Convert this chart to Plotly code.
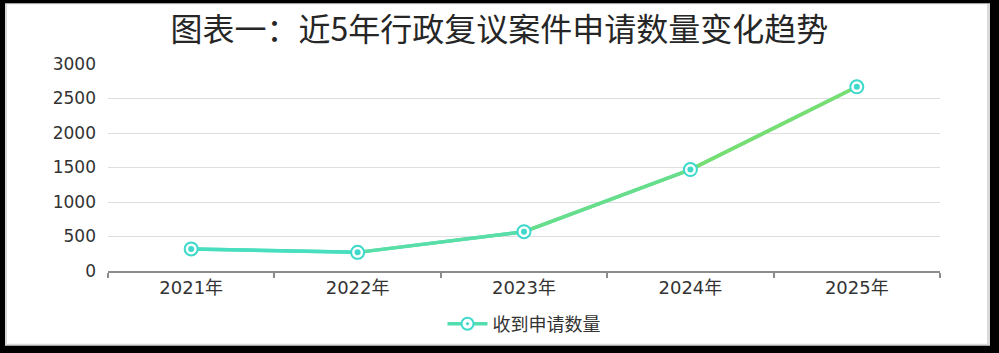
import plotly.graph_objects as go

# ---- data ----
years = ["2021年", "2022年", "2023年", "2024年", "2025年"]
applications = [320, 270, 570, 1470, 2670]
y_ticks = [0, 500, 1000, 1500, 2000, 2500, 3000]
series_name = "收到申请数量"
title_text = "图表一：近5年行政复议案件申请数量变化趋势"

# ---- style ----
W, H = 999, 353
ML, MR, MT, MB = 108, 59, 64, 81
PW, PH = W - ML - MR, H - MT - MB
FONT = "Noto Sans CJK SC"
NUMFONT = "DejaVu Sans, Noto Sans CJK SC"
c_start = (64, 222, 206)
c_end = (128, 222, 98)
marker_col = "#3fd9cb"


def mix(t):
    r, g, b = (round(a + (bb - a) * t) for a, bb in zip(c_start, c_end))
    return f"rgb({r},{g},{b})"


def px_x(p):
    return (p - ML) / PW


def px_y(p):
    return (H - MB - p) / PH


fig = go.Figure()

# legend/base trace
fig.add_trace(go.Scatter(
    x=years, y=applications, mode="lines+markers", name=series_name,
    line=dict(color=mix(0.3), width=3.5),
    marker=dict(symbol="circle-dot", size=12, color="white",
                line=dict(color=marker_col, width=2)),
    hoverinfo="skip",
))

# gradient-coloured segments between consecutive data points
n = len(years)
for i in range(n - 1):
    fig.add_trace(go.Scatter(
        x=years[i:i + 2], y=applications[i:i + 2], mode="lines",
        line=dict(color=mix((i + 0.5) / (n - 1)), width=3.5),
        showlegend=False, hoverinfo="skip",
    ))

# markers on top
fig.add_trace(go.Scatter(
    x=years, y=applications, mode="markers", showlegend=False,
    marker=dict(symbol="circle", size=13, color="white",
                line=dict(color=marker_col, width=2)),
))
fig.add_trace(go.Scatter(
    x=years, y=applications, mode="markers", showlegend=False,
    marker=dict(symbol="circle", size=6, color=marker_col, line=dict(width=0)),
))

# frame: black page with grey-edged white panel
fig.add_shape(type="rect", xref="paper", yref="paper", layer="below",
              x0=px_x(5), x1=px_x(990), y0=px_y(347), y1=px_y(3),
              fillcolor="#d9d9d9", line=dict(width=0))
fig.add_shape(type="rect", xref="paper", yref="paper", layer="below",
              x0=px_x(7), x1=px_x(987), y0=px_y(345), y1=px_y(4),
              fillcolor="white", line=dict(width=0))

fig.update_layout(
    width=W, height=H,
    margin=dict(l=ML, r=MR, t=MT, b=MB),
    paper_bgcolor="black",
    plot_bgcolor="rgba(0,0,0,0)",
    font=dict(family=FONT, color="#333333", size=17),
    title=dict(text=title_text, x=0.5, xanchor="center",
               y=1 - 30 / H, yanchor="middle", yref="container",
               font=dict(family=FONT, size=32, color="#262626")),
    showlegend=True,
    legend=dict(orientation="h", x=0.5, xanchor="center",
                y=px_y(324), yanchor="middle",
                font=dict(family=FONT, size=18, color="#333333"),
                bgcolor="rgba(0,0,0,0)", itemwidth=40),
    xaxis=dict(type="category", categoryorder="array", categoryarray=years,
               range=[-0.5, n - 0.5],
               showgrid=False, showline=True, linecolor="#8c8c8c", linewidth=1.5,
               ticks="outside", tickson="boundaries", ticklen=5,
               tickcolor="#8c8c8c", tickwidth=1.5,
               tickfont=dict(family=NUMFONT, size=18, color="#333333"),
               zeroline=False, fixedrange=True),
    yaxis=dict(range=[0, 3000], tickvals=y_ticks,
               showgrid=True, gridcolor="#dedede", gridwidth=1,
               showline=False, zeroline=False, ticks="",
               ticklabelstandoff=11,
               tickfont=dict(family=NUMFONT, size=17, color="#333333"),
               fixedrange=True),
)

fig.write_html("out.html")
